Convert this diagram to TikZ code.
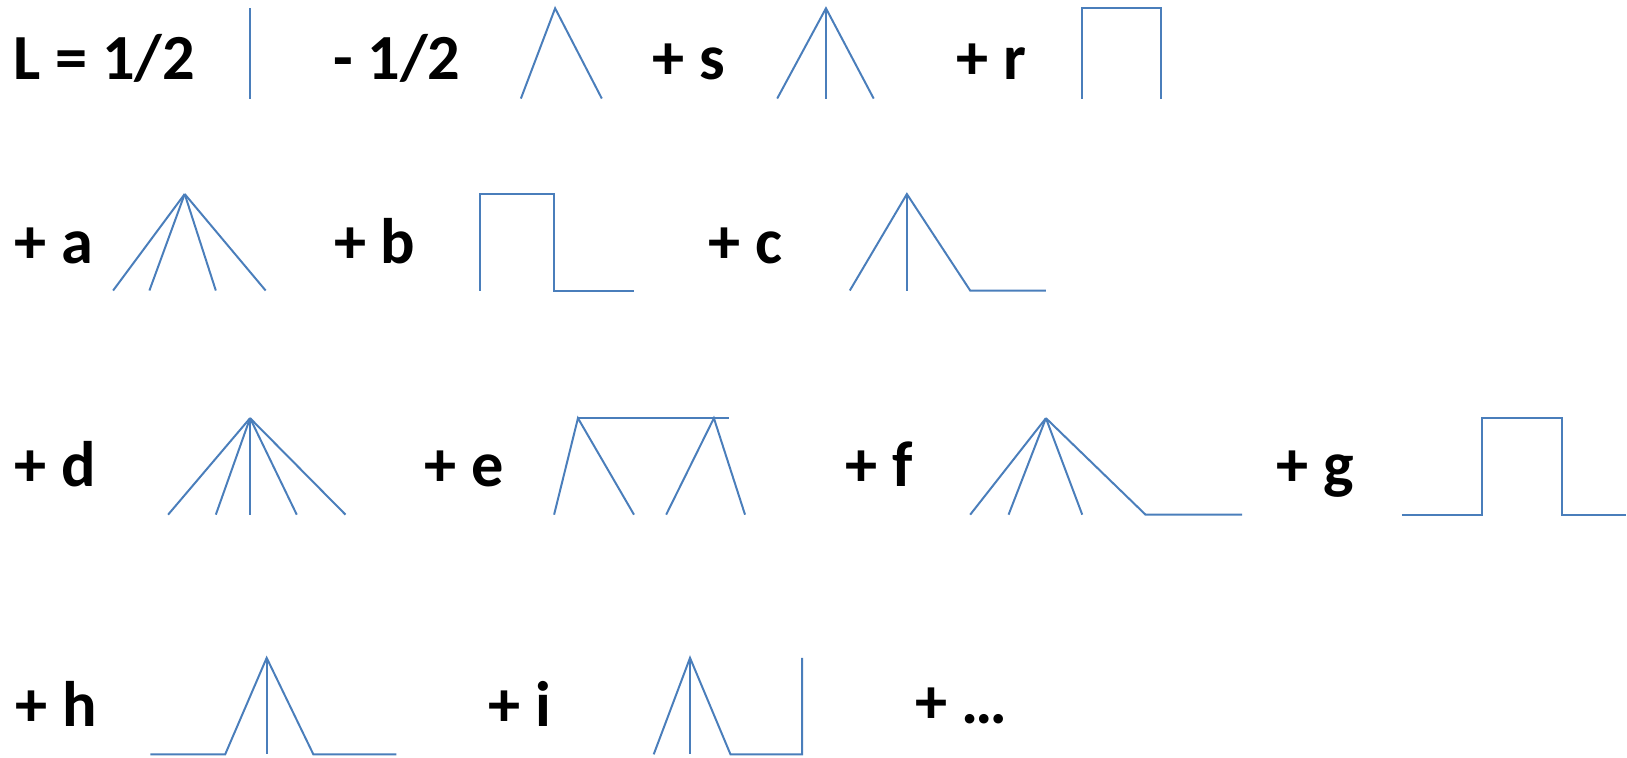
\documentclass[tikz,border=0pt]{standalone}
\usepackage{fontspec}
\setmainfont{Carlito}
\definecolor{lineblue}{HTML}{4A7EBB}
\begin{document}
\begin{tikzpicture}[x=1pt,y=-1pt,
  ln/.style={draw=lineblue, line width=1.9pt, line join=miter},
  lbl/.style={font=\fontsize{62}{62}\selectfont\bfseries, anchor=base west, inner sep=0pt}]
\useasboundingbox[fill=white] (0,0) rectangle (1568,730);
% ---------- labels ----------
\node[lbl] (tL) at (13,77) {L = 1/2};
\node[lbl] (tm) at (321,77) {- 1/2};
\node[lbl] (ts) at (629,77) {+ s};
\node[lbl] (tr) at (922,77) {+ r};
\node[lbl] (ta) at (14,254) {+ a};
\node[lbl] (tb) at (322,254) {+ b};
\node[lbl] (tc) at (683,254) {+ c};
\node[lbl] (td) at (14,469) {+ d};
\node[lbl] (te) at (409,469) {+ e};
\node[lbl] (tf) at (815,469) {+ f};
\node[lbl] (tg) at (1230,469) {+ g};
\node[lbl] (th) at (15,700) {+ h};
\node[lbl] (ti) at (471,700) {+ i};
\node[lbl] (tdots) at (882,697) {+ …};
% ---------- row 1 ----------
\draw[ln] (241,8) -- (241,95);
\draw[ln] (502,95) -- (535,8) -- (580,95);
\draw[ln] (749,95) -- (796,8) -- (842,95);
\draw[ln] (796,8) -- (796,95);
\draw[ln] (1043,95) -- (1043,8) -- (1119,8) -- (1119,95);
% ---------- row 2 ----------
\coordinate (aA) at (178,187);
\foreach \x in {109,144,208,256} \draw[ln] (aA) -- (\x,280);
\draw[ln] (463,280) -- (463,187) -- (534,187) -- (534,280) -- (611,280);
\draw[ln] (819,280) -- (874,187) -- (935,280) -- (1008,280);
\draw[ln] (874,187) -- (874,280);
% ---------- row 3 ----------
\coordinate (dA) at (241,403);
\foreach \x in {162,208,241,286,333} \draw[ln] (dA) -- (\x,496);
\draw[ln] (534,496) -- (557,403) -- (611,496);
\draw[ln] (642,496) -- (688,403) -- (718,496);
\draw[ln] (557,403) -- (703,403);
\coordinate (fA) at (1008,403);
\foreach \x in {935,972,1043} \draw[ln] (fA) -- (\x,496);
\draw[ln] (fA) -- (1104,496) -- (1197,496);
\draw[ln] (1351,496) -- (1428,496) -- (1428,403) -- (1505,403) -- (1505,496) -- (1567,496);
% ---------- row 4 ----------
\draw[ln] (145,727) -- (217,727) -- (257,634) -- (302,727) -- (382,727);
\draw[ln] (257,634) -- (257,727);
\draw[ln] (630,727) -- (665,634) -- (704,727) -- (773,727) -- (773,634);
\draw[ln] (665,634) -- (665,727);
\end{tikzpicture}
\end{document}
